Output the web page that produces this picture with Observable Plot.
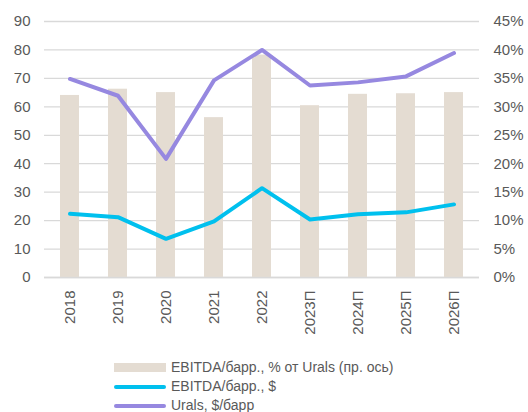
<!DOCTYPE html>
<html>
<head>
<meta charset="utf-8">
<script src="https://cdn.jsdelivr.net/npm/d3@7"></script>
<script src="https://cdn.jsdelivr.net/npm/@observablehq/plot@0.6"></script>
<style>
  body { margin: 0; background: #fff; font-family: "Liberation Sans", Arial, sans-serif; }
  #chart { position: relative; width: 528px; height: 412px; }
  .legend { position: absolute; left: 114px; top: 358px; font-size: 14px; color: #595959; line-height: 19px; }
  .legend .row { display: flex; align-items: center; height: 19px; }
  .legend .sw { width: 52px; margin-right: 5px; }
</style>
</head>
<body>
<div id="chart"></div>
<script>
const years = ["2018","2019","2020","2021","2022","2023П","2024П","2025П","2026П"];
const ebitdaPct = [32.0, 33.1, 32.5, 28.1, 39.1, 30.2, 32.2, 32.3, 32.5];
const ebitdaUsd = [22.4, 21.2, 13.6, 19.7, 31.4, 20.4, 22.2, 22.9, 25.7];
const urals = [69.8, 63.9, 41.7, 69.3, 80.0, 67.5, 68.6, 70.7, 78.9];
const leftTicks = [0,10,20,30,40,50,60,70,80,90];
const rightTicks = [0,5,10,15,20,25,30,35,40,45];

const seriesNames = ["EBITDA/барр., % от Urals (пр. ось)", "EBITDA/барр., $", "Urals, $/барр"];
const colors = ["#e4dcd2", "#00c0ee", "#9688e0"];

const data = years.map((y, i) => ({year: y, pct: ebitdaPct[i], usd: ebitdaUsd[i], urals: urals[i]}));
const ratio = 90 / 45;

const plot = Plot.plot({
  width: 528,
  height: 345,
  marginLeft: 44,
  marginRight: 49,
  marginTop: 21,
  marginBottom: 68,
  style: {fontFamily: "Liberation Sans, Arial, sans-serif", fontSize: "15px", color: "#595959", background: "#fff"},
  x: {domain: years, paddingInner: 0.6, paddingOuter: 0.3, label: null},
  y: {domain: [0, 90], label: null},
  marks: [
    Plot.ruleY(leftTicks, {stroke: "#d9d9d9", strokeWidth: 1.3}),
    Plot.barY(data, {x: "year", y: d => d.pct * ratio, fill: colors[0]}),
    Plot.ruleY([0], {stroke: "#d9d9d9", strokeWidth: 1.5}),
    Plot.line(data, {x: "year", y: "urals", stroke: colors[2], strokeWidth: 4}),
    Plot.line(data, {x: "year", y: "usd", stroke: colors[1], strokeWidth: 4}),
    Plot.axisY({ticks: leftTicks, tickSize: 0, tickPadding: 14, label: null, fill: "#595959"}),
    Plot.axisY({anchor: "right", ticks: rightTicks.map(t => t * ratio), tickFormat: d => (d / ratio) + "%", tickSize: 0, tickPadding: 14, label: null, fill: "#595959", textAnchor: "start"}),
    Plot.axisX({tickRotate: -90, tickSize: 0, tickPadding: 13, label: null, fill: "#595959"})
  ]
});
const chart = document.getElementById("chart");
chart.appendChild(plot);

const legend = document.createElement("div");
legend.className = "legend";
seriesNames.forEach((name, i) => {
  const row = document.createElement("div");
  row.className = "row";
  const sw = document.createElement("div");
  sw.className = "sw";
  sw.style.height = i === 0 ? "9px" : "4px";
  sw.style.background = colors[i];
  sw.style.borderRadius = i === 0 ? "0" : "2px";
  row.appendChild(sw);
  const t = document.createElement("span");
  t.textContent = name;
  row.appendChild(t);
  legend.appendChild(row);
});
chart.appendChild(legend);
</script>
</body>
</html>
